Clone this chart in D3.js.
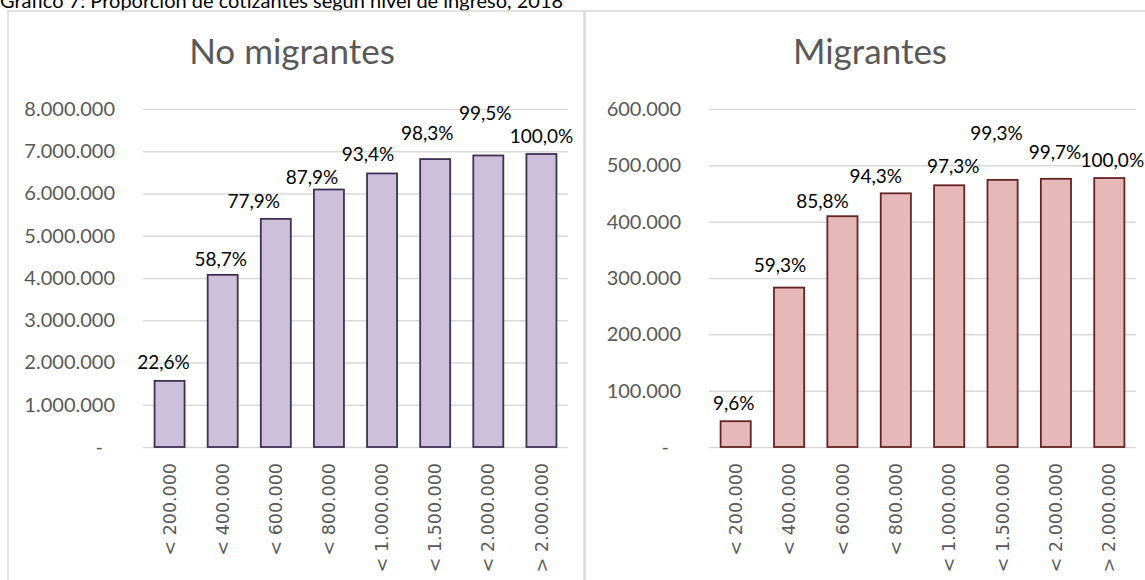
<!DOCTYPE html>
<html>
<head>
<meta charset="utf-8">
<script src="https://cdnjs.cloudflare.com/ajax/libs/d3/7.8.5/d3.min.js"></script>
<style>
  body { margin: 0; background: #fff; }
  svg { display: block; }
</style>
</head>
<body>
<div id="chart"></div>
<script>
var width = 1145,
    height = 580;

// Data
var categories = ["< 200.000", "< 400.000", "< 600.000", "< 800.000",
                  "< 1.000.000", "< 1.500.000", "< 2.000.000", "> 2.000.000"];
var noMigrantes = [1565000, 4075000, 5400000, 6095000, 6475000, 6815000, 6900000, 6935000];
var pctNoMigrantes = [22.6, 58.7, 77.9, 87.9, 93.4, 98.3, 99.5, 100.0];
var migrantes = [45800, 283000, 409700, 450300, 464600, 474200, 476100, 477500];
var pctMigrantes = [9.6, 59.3, 85.8, 94.3, 97.3, 99.3, 99.7, 100.0];

// Label nudges (dx, dy from bar top), hand placed in the original
var nudgeLeft = [[-6, -19], [-2, -15], [-22, -18], [-17, -12], [-14, -19], [-8, -26], [-3, -42], [0, -18]];
var nudgeRight = [[-2, -18], [-9, -22], [-20, -15], [-20, -17], [4, -19], [-6, -47], [-1, -26], [3, -18]];

var es = d3.formatLocale({decimal: ",", thousands: ".", grouping: [3], currency: ["", ""]});
var fmtNum = es.format(",.0f"),
    fmtPct = es.format(".1f");

var svg = d3.select("#chart")
    .append("svg")
    .attr("width", width)
    .attr("height", height);

// Figure title, cut off at the top like the original
svg.append("text")
    .attr("x", 0)
    .attr("y", 8)
    .style("font", "20px Lato, sans-serif")
    .attr("fill", "#000")
    .text("Gráfico 7: Proporción de cotizantes según nivel de ingreso, 2018");

function drawPanel(o) {
    var g = svg.append("g");

    g.append("rect")
        .attr("x", o.px)
        .attr("y", 11)
        .attr("width", 576)
        .attr("height", 620)
        .attr("fill", "#fff")
        .attr("stroke", "#d9d9d9")
        .attr("stroke-width", 1.5);

    g.append("text")
        .attr("x", o.tx)
        .attr("y", 64)
        .attr("text-anchor", "middle")
        .style("font", "35px Lato, sans-serif")
        .attr("fill", "#595959")
        .text(o.title);

    var x = d3.scaleBand()
        .domain(categories)
        .range([o.x0, o.x1])
        .paddingInner(0.435)
        .paddingOuter(0.2175);

    var y = d3.scaleLinear()
        .domain([0, o.max])
        .range([447, 109]);

    var ticks = d3.range(0, o.max + 1, o.step);

    // gridlines
    g.append("g")
        .attr("transform", "translate(" + o.x0 + ",0)")
        .call(d3.axisLeft(y).tickValues(ticks).tickSize(-(o.x1 - o.x0)).tickFormat(""))
        .call(function(s) {
            s.select(".domain").remove();
            s.selectAll("line").attr("stroke", "#d9d9d9").attr("stroke-width", 1.5);
        });

    // y labels
    g.append("g")
        .attr("transform", "translate(" + o.x0 + ",0)")
        .call(d3.axisLeft(y).tickValues(ticks).tickSize(0).tickPadding(28)
            .tickFormat(function(d) { return d === 0 ? "-" : fmtNum(d); }))
        .call(function(s) {
            s.select(".domain").remove();
            s.selectAll("text")
                .attr("fill", "#595959")
                .style("font", "20px Lato, sans-serif")
                .attr("dx", function(d) { return d === 0 ? -12 : 0; });
        });

    // x labels
    g.append("g")
        .attr("transform", "translate(0,447)")
        .call(d3.axisBottom(x).tickSize(0).tickPadding(0))
        .call(function(s) {
            s.select(".domain").remove();
            s.selectAll("text")
                .attr("fill", "#595959")
                .style("font", "17.5px 'DejaVu Sans', sans-serif")
                .attr("text-anchor", "end")
                .attr("transform", "translate(0,16) rotate(-90)")
                .attr("x", 0)
                .attr("y", 0)
                .attr("dy", "0.35em");
        });

    g.selectAll(".bar")
        .data(o.values)
        .enter()
        .append("rect")
        .attr("class", "bar")
        .attr("x", function(d, i) { return x(categories[i]); })
        .attr("y", function(d) { return y(d); })
        .attr("width", x.bandwidth())
        .attr("height", function(d) { return y(0) - y(d); })
        .attr("fill", o.fill)
        .attr("stroke", o.stroke)
        .attr("stroke-width", 1.8);

    g.selectAll(".lbl")
        .data(o.pct)
        .enter()
        .append("text")
        .attr("class", "lbl")
        .attr("x", function(d, i) { return x(categories[i]) + x.bandwidth() / 2 + o.nudge[i][0]; })
        .attr("y", function(d, i) { return y(o.values[i]) + o.nudge[i][1]; })
        .attr("dy", "0.35em")
        .attr("text-anchor", "middle")
        .style("font", "19px Lato, sans-serif")
        .attr("fill", "#000")
        .text(function(d) { return fmtPct(d) + "%"; });
}

drawPanel({
    title: "No migrantes",
    px: 8, tx: 292, x0: 143, x1: 568,
    max: 8000000, step: 1000000,
    values: noMigrantes, pct: pctNoMigrantes, nudge: nudgeLeft,
    fill: "#ccc0da", stroke: "#3f3151"
});

drawPanel({
    title: "Migrantes",
    px: 585, tx: 870, x0: 709, x1: 1136,
    max: 600000, step: 100000,
    values: migrantes, pct: pctMigrantes, nudge: nudgeRight,
    fill: "#e6b9b8", stroke: "#632523"
});
</script>
</body>
</html>
